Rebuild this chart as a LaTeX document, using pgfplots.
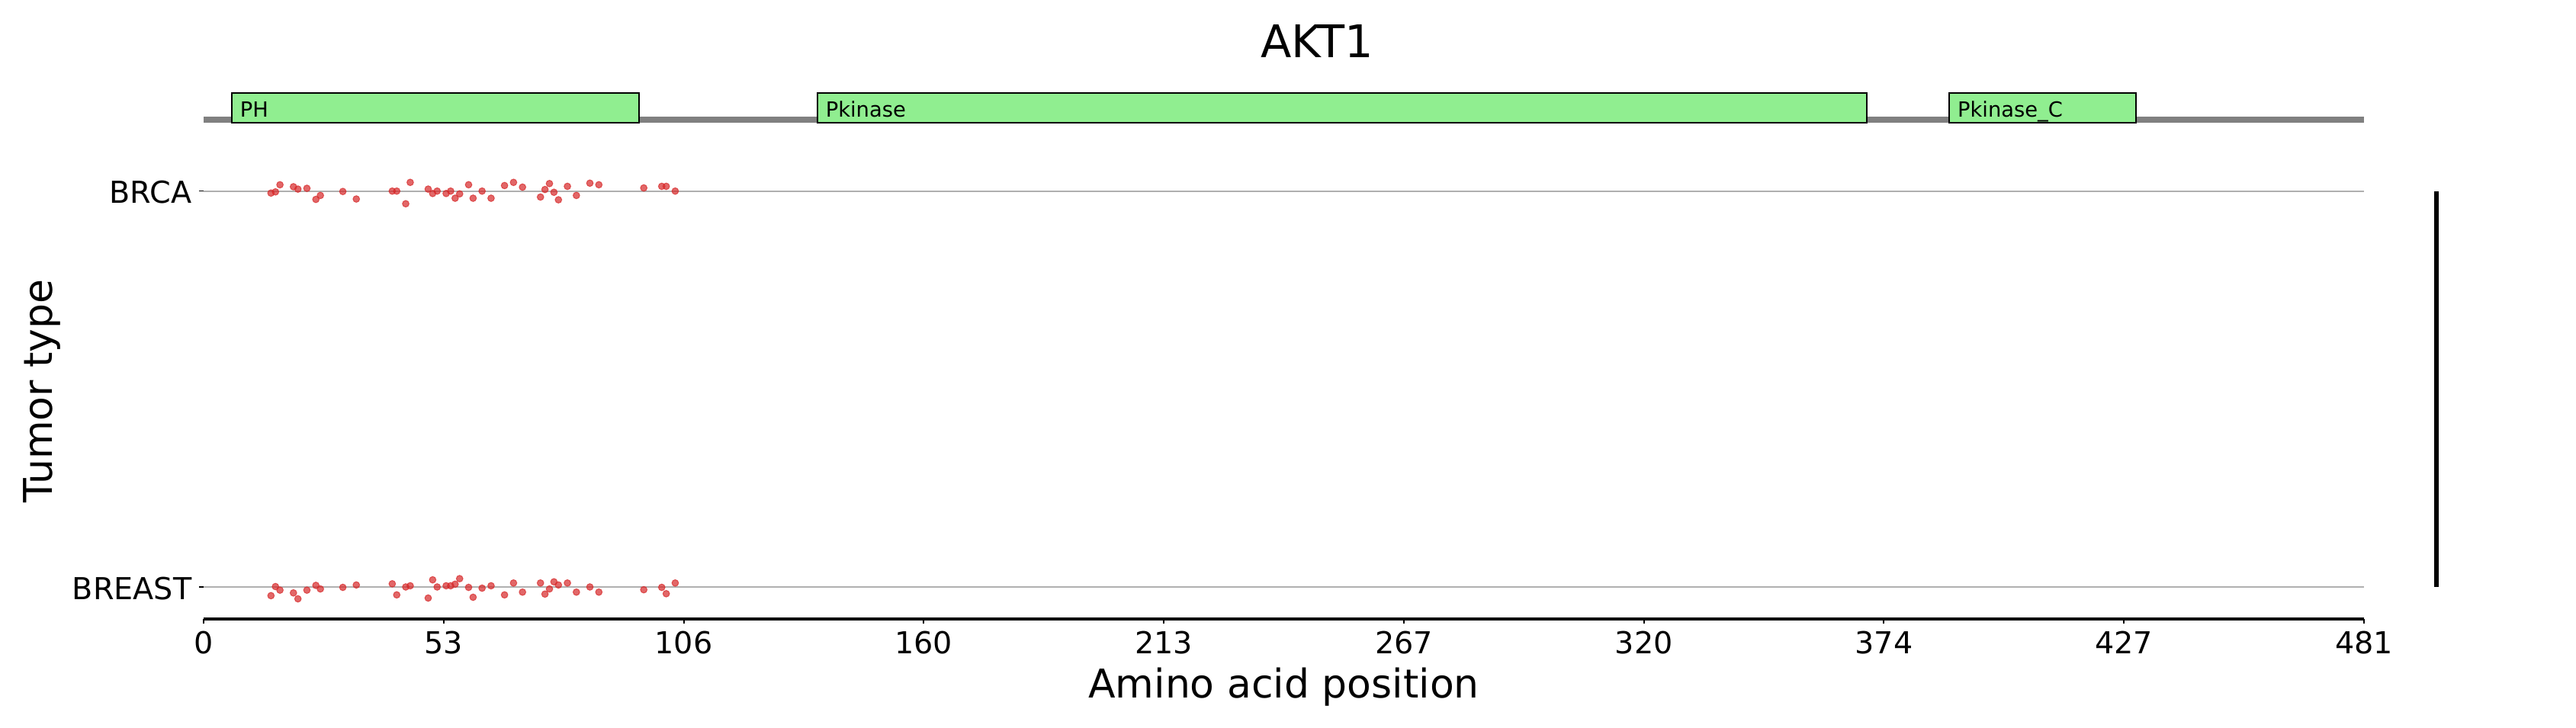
\documentclass[border=0pt]{standalone}
\usepackage{pgfplots}
\usepackage{pgfplotstable}
\pgfplotsset{compat=1.18}
\usepackage{fontspec}
\setmainfont{DejaVu Sans}
\definecolor{domgreen}{RGB}{144,238,144}
\definecolor{tabred}{RGB}{214,39,40}
\definecolor{gridgray}{RGB}{176,176,176}
\definecolor{backbone}{RGB}{128,128,128}

\pgfplotstableread{
x y
15 0.995
16 0.998
17 1.016
20 1.011
21 1.005
23 1.007
25 0.979
26 0.989
31 0.999
34 0.980
42 1.000
43 1.000
45 0.968
46 1.022
50 1.005
51 0.994
52 1.000
54 0.994
55 1.000
56 0.982
57 0.993
59 1.016
60 0.982
62 1.000
64 0.982
67 1.014
69 1.022
71 1.010
75 0.985
76 1.004
77 1.019
78 0.997
79 0.978
81 1.012
83 0.989
86 1.020
88 1.016
98 1.008
102 1.012
103 1.012
105 1.000
}\brca

\pgfplotstableread{
x y
15 -0.022
16 0.001
17 -0.008
20 -0.015
21 -0.030
23 -0.008
25 0.004
26 -0.005
31 -0.001
34 0.005
42 0.008
43 -0.020
45 0.000
46 0.003
50 -0.028
51 0.018
52 0.000
54 0.003
55 0.003
56 0.007
57 0.021
59 -0.001
60 -0.026
62 -0.003
64 0.003
67 -0.020
69 0.010
71 -0.013
75 0.010
76 -0.018
77 -0.005
78 0.013
79 0.005
81 0.010
83 -0.013
86 0.000
88 -0.013
98 -0.007
102 -0.001
103 -0.017
105 0.010
}\breast

\begin{document}
\begin{tikzpicture}
\useasboundingbox (-80.1pt,-42.6pt) rectangle (933.3pt,243.6pt);
\begin{axis}[
  at={(0,0)}, anchor=south west,
  scale only axis, width=849.9pt, height=207.0pt,
  xmin=0, xmax=481, ymin=-0.0809, ymax=1.2478,
  clip=false,
  axis x line*=bottom, axis y line*=left,
  x axis line style={-, line width=1.2pt, black},
  y axis line style={draw=none},
  xtick={0,53.4444,106.8889,160.3333,213.7778,267.2222,320.6667,374.1111,427.5556,481},
  xticklabels={0,53,106,160,213,267,320,374,427,481},
  ytick={0,1}, yticklabels={BREAST,BRCA},
  tick align=outside,
  major tick length=1.8pt,
  xtick style={line width=0.6pt, black},
  ytick style={line width=0.4pt, black},
  ymajorgrids, grid style={gridgray, line width=0.6pt},
  tick label style={font=\fontsize{11.9}{14}\selectfont},
  xticklabel style={anchor=base, yshift=-11.7pt},
  yticklabel style={anchor=east, inner sep=0pt, xshift=-2.7pt, yshift=-0.5pt},
  xlabel={Amino acid position}, ylabel={Tumor type},
  every axis x label/.style={at={(axis description cs:0.5,-0.1507)}, anchor=base, font=\fontsize{15.6}{18}\selectfont},
  every axis y label/.style={at={(axis description cs:-0.0702,0.4333)}, rotate=90, anchor=base, font=\fontsize{15.6}{18}\selectfont},
  title={AKT1},
  every axis title/.style={at={(axis description cs:0.5154,1.0681)}, anchor=base, font=\fontsize{17.7}{20}\selectfont},
]
% backbone
\addplot[fill=backbone, draw=none] coordinates {(0,1.1727) (481,1.1727) (481,1.1881) (0,1.1881)} -- cycle;
% domains
\addplot[fill=domgreen, draw=black, line width=0.6pt] coordinates {(6.2,1.1727) (96.9,1.1727) (96.9,1.2478) (6.2,1.2478)} -- cycle;
\addplot[fill=domgreen, draw=black, line width=0.6pt] coordinates {(136.6,1.1727) (370.3,1.1727) (370.3,1.2478) (136.6,1.2478)} -- cycle;
\addplot[fill=domgreen, draw=black, line width=0.6pt] coordinates {(388.6,1.1727) (430.2,1.1727) (430.2,1.2478) (388.6,1.2478)} -- cycle;
\node[anchor=base west, inner sep=0pt, font=\fontsize{8.2}{10}\selectfont] at (axis cs:8.0,1.188) {PH};
\node[anchor=base west, inner sep=0pt, font=\fontsize{8.2}{10}\selectfont] at (axis cs:138.4,1.188) {Pkinase};
\node[anchor=base west, inner sep=0pt, font=\fontsize{8.2}{10}\selectfont] at (axis cs:390.4,1.188) {Pkinase\_C};
% mutations
\addplot[only marks, mark=*, mark size=1.3pt, mark options={fill=tabred, draw=tabred, fill opacity=0.7, draw opacity=0.7, line width=0.3pt}] table[x=x,y=y] {\brca};
\addplot[only marks, mark=*, mark size=1.3pt, mark options={fill=tabred, draw=tabred, fill opacity=0.7, draw opacity=0.7, line width=0.3pt}] table[x=x,y=y] {\breast};
% right bar
\addplot[black, line width=1.8pt] coordinates {(497.1,0) (497.1,1)};
\end{axis}
\end{tikzpicture}
\end{document}
